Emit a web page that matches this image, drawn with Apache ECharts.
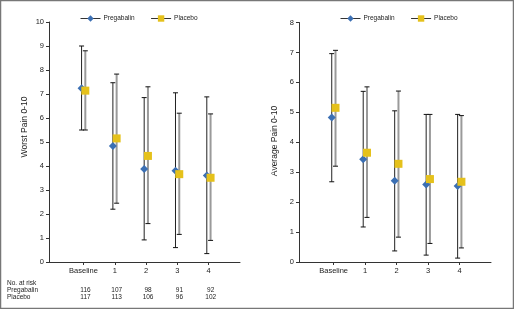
<!DOCTYPE html>
<html>
<head>
<meta charset="utf-8">
<script src="https://cdn.jsdelivr.net/npm/echarts@6/dist/echarts.min.js"></script>
<style>
  html, body { margin: 0; padding: 0; background: #fff; }
  #chart { width: 514px; height: 309px; }
</style>
</head>
<body>
<div id="chart"></div>
<script>
// categories along the x axis
var visits = ['Baseline', '1', '2', '3', '4'];

// worst pain (left panel)
var worstPreg = [7.24, 4.83, 3.87, 3.80, 3.60];
var worstPregLow = [5.5, 2.2, 0.92, 0.6, 0.35];
var worstPregHigh = [9.0, 7.47, 6.85, 7.05, 6.88];
var worstPlac = [7.14, 5.15, 4.42, 3.66, 3.51];
var worstPlacLow = [5.5, 2.45, 1.6, 1.15, 0.9];
var worstPlacHigh = [8.8, 7.83, 7.3, 6.2, 6.17];

// average pain (right panel)
var avgPreg = [4.83, 3.43, 2.71, 2.59, 2.54];
var avgPregLow = [2.68, 1.17, 0.37, 0.23, 0.13];
var avgPregHigh = [6.96, 5.7, 5.05, 4.93, 4.93];
var avgPlac = [5.15, 3.65, 3.28, 2.77, 2.68];
var avgPlacLow = [3.2, 1.49, 0.83, 0.62, 0.47];
var avgPlacHigh = [7.07, 5.85, 5.71, 4.93, 4.89];

// number at risk
var riskPreg = [116, 107, 98, 91, 92];
var riskPlac = [117, 113, 106, 96, 102];

var blue = '#3b6fb3';
var yellow = '#e5c11b';
var axisColor = '#333';
var off = 0.06;

function pts(vals, shift) {
	return vals.map(function (v, i) { return [i + shift, v]; });
}
function bars(low, high, shift) {
	return low.map(function (v, i) { return [i + shift, v, high[i]]; });
}
function errorSeries(name, idx, data, color, width) {
	return {
		name: name,
		type: 'custom',
		xAxisIndex: idx,
		yAxisIndex: idx,
		z: 2,
		silent: true,
		renderItem: function (params, api) {
			var lo = api.coord([api.value(0), api.value(1)]);
			var hi = api.coord([api.value(0), api.value(2)]);
			var cap = 2.5;
			return {
				type: 'group',
				children: [{
					type: 'line',
					shape: { x1: lo[0], y1: lo[1], x2: hi[0], y2: hi[1] },
					style: { stroke: color, lineWidth: width }
				}, {
					type: 'line',
					shape: { x1: lo[0] - cap, y1: lo[1], x2: lo[0] + cap, y2: lo[1] },
					style: { stroke: '#111', lineWidth: 1 }
				}, {
					type: 'line',
					shape: { x1: hi[0] - cap, y1: hi[1], x2: hi[0] + cap, y2: hi[1] },
					style: { stroke: '#111', lineWidth: 1 }
				}]
			};
		},
		encode: { x: 0, y: [1, 2] },
		data: data
	};
}
function markSeries(name, idx, data, symbol, color) {
	return {
		name: name,
		type: 'line',
		xAxisIndex: idx,
		yAxisIndex: idx,
		z: 5,
		symbol: symbol,
		symbolSize: 8,
		itemStyle: { color: color },
		lineStyle: { width: 0, opacity: 0 },
		data: data
	};
}
function xAxisCfg(idx) {
	return {
		type: 'value',
		gridIndex: idx,
		min: -1.1,
		max: 5,
		axisLine: { lineStyle: { color: axisColor, width: 1 } },
		axisTick: { show: true, length: 3, customValues: [0, 1, 2, 3, 4], lineStyle: { color: axisColor } },
		axisLabel: {
			customValues: [0, 1, 2, 3, 4],
			formatter: function (v) { return visits[Math.round(v)]; },
			color: '#222', fontSize: 7.5, margin: 5, fontFamily: 'Liberation Sans'
		},
		splitLine: { show: false }
	};
}
function yAxisCfg(idx, max) {
	return {
		type: 'value',
		gridIndex: idx,
		min: 0,
		max: max,
		interval: 1,
		axisLine: { show: true, onZero: false, lineStyle: { color: axisColor, width: 1 } },
		axisTick: { show: true, length: 3, lineStyle: { color: axisColor } },
		axisLabel: { color: '#222', fontSize: 7.5, margin: 5, fontFamily: 'Liberation Sans' },
		splitLine: { show: false }
	};
}
function legendCfg(left) {
	return {
		left: left,
		top: 10,
		itemWidth: 20,
		itemHeight: 8,
		itemGap: 16,
		data: ['Pregabalin', 'Placebo'],
		lineStyle: { color: '#333', width: 1, opacity: 1 },
		textStyle: { fontSize: 6.5, color: '#222', fontFamily: 'Liberation Sans', padding: [0, 0, 0, -2] }
	};
}

var chart = echarts.init(document.getElementById('chart'));
var option = {
	animation: false,
	backgroundColor: '#fff',
	legend: [legendCfg(75), legendCfg(335)],
	grid: [
		{ left: 49, right: 274, top: 22, bottom: 47 },
		{ left: 299, right: 23, top: 22.5, bottom: 47 }
	],
	xAxis: [xAxisCfg(0), xAxisCfg(1)],
	yAxis: [yAxisCfg(0, 10), yAxisCfg(1, 8)],
	series: [
		markSeries('Pregabalin', 0, pts(worstPreg, -off), 'diamond', blue),
		markSeries('Placebo', 0, pts(worstPlac, off), 'rect', yellow),
		markSeries('Pregabalin', 1, pts(avgPreg, -off), 'diamond', blue),
		markSeries('Placebo', 1, pts(avgPlac, off), 'rect', yellow),
		errorSeries('Pregabalin range', 0, bars(worstPregLow, worstPregHigh, -off), '#222', 1),
		errorSeries('Placebo range', 0, bars(worstPlacLow, worstPlacHigh, off), '#9a9a9a', 2),
		errorSeries('Pregabalin range', 1, bars(avgPregLow, avgPregHigh, -off), '#222', 1),
		errorSeries('Placebo range', 1, bars(avgPlacLow, avgPlacHigh, off), '#9a9a9a', 2)
	]
};
chart.setOption(option);

// risk table under the left panel, axis names, frame
var txt = { fontSize: 6.5, fill: '#222', fontFamily: 'Liberation Sans' };
var graphics = [{
	type: 'rect',
	shape: { x: 0.5, y: 0.5, width: 513, height: 308 },
	style: { fill: 'none', stroke: '#777', lineWidth: 1.5 },
	silent: true
}, {
	type: 'text', x: 25, y: 127, rotation: Math.PI / 2,
	style: { text: 'Worst Pain 0-10', fontSize: 8.5, fill: '#222', fontFamily: 'Liberation Sans', align: 'center', verticalAlign: 'middle' }
}, {
	type: 'text', x: 275, y: 141, rotation: Math.PI / 2,
	style: { text: 'Average Pain 0-10', fontSize: 8.5, fill: '#222', fontFamily: 'Liberation Sans', align: 'center', verticalAlign: 'middle' }
}, {
	type: 'text', x: 7, y: 283, style: Object.assign({ text: 'No. at risk', verticalAlign: 'middle' }, txt)
}, {
	type: 'text', x: 7, y: 290, style: Object.assign({ text: 'Pregabalin', verticalAlign: 'middle' }, txt)
}, {
	type: 'text', x: 7, y: 297, style: Object.assign({ text: 'Placebo', verticalAlign: 'middle' }, txt)
}];
visits.forEach(function (v, i) {
	var x = chart.convertToPixel({ xAxisIndex: 0 }, i) + 2;
	graphics.push({ type: 'text', x: x, y: 290, style: Object.assign({ text: String(riskPreg[i]), align: 'center', verticalAlign: 'middle' }, txt) });
	graphics.push({ type: 'text', x: x, y: 297, style: Object.assign({ text: String(riskPlac[i]), align: 'center', verticalAlign: 'middle' }, txt) });
});
chart.setOption({ graphic: graphics });
</script>
</body>
</html>
